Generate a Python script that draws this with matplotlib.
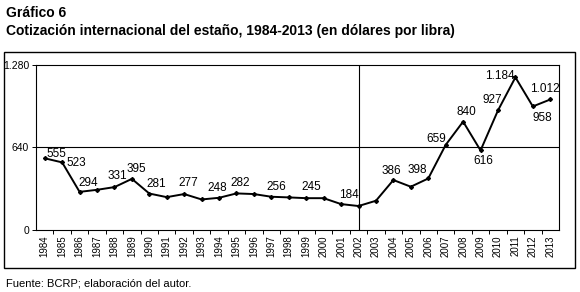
import matplotlib
matplotlib.use("Agg")
import matplotlib.pyplot as plt
from matplotlib.patches import Rectangle

years = list(range(1984, 2014))
values = [555, 523, 294, 310, 331, 395, 281, 253, 277, 235, 248, 282, 277, 256, 251, 245,
          245, 199, 184, 225, 386, 334, 398, 659, 840, 616, 927, 1184, 958, 1012]
labeled = {1984: "555", 1985: "523", 1986: "294", 1988: "331", 1989: "395", 1990: "281",
           1992: "277", 1994: "248", 1995: "282", 1997: "256", 1999: "245", 2002: "184",
           2004: "386", 2006: "398", 2007: "659", 2008: "840", 2009: "616", 2010: "927",
           2011: "1.184", 2012: "958", 2013: "1.012"}
# label offsets in pixels (dx right, dy down)
offsets = {1984: (12, -4), 1985: (14, 1), 1986: (8.5, -9), 1988: (2.4, -11), 1989: (4, -10),
           1990: (7, -10), 1992: (4, -10.6), 1994: (-2, -10), 1995: (4, -10), 1997: (5, -10),
           1999: (5, -11), 2002: (-10, -11), 2004: (-2, -9), 2006: (-11, -8), 2007: (-9.5, -6),
           2008: (3.4, -9.5), 2009: (3, 11), 2010: (-6, -10.6), 2011: (-16, -1),
           2012: (9.5, 11.4), 2013: (-5.6, -10.7)}
yticks = [0, 640, 1280]
ytick_labels = ["0", "640", "1.280"]

plt.rcParams['font.family'] = ['Liberation Sans', 'DejaVu Sans']

W, H = 580, 292
fig = plt.figure(figsize=(W / 100, H / 100), dpi=100)
ax = fig.add_axes([36 / W, (H - 229.7) / H, (559 - 36) / W, (229.7 - 65) / H])

ax.plot(years, values, color="black", lw=1.4, marker="D", ms=2.0, zorder=3)
ax.set_xlim(1983.5, 2013.5)
ax.set_ylim(0, 1280)
ax.set_yticks(yticks)
ax.set_yticklabels(ytick_labels, fontsize=7.5)
ax.set_xticks(years)
ax.set_xticklabels([str(y) for y in years], rotation=90, fontsize=7)
ax.set_xticks([y + 0.5 for y in years[:-1]], minor=True)
ax.tick_params(axis="x", which="major", length=0, pad=4)
ax.tick_params(axis="x", which="minor", length=3, width=0.7)
ax.tick_params(axis="y", length=3, width=0.7, pad=2)
ax.axhline(640, color="black", lw=0.8, zorder=1)
ax.axvline(2002, color="black", lw=0.8, zorder=1)
for s in ax.spines.values():
    s.set_linewidth(0.8)

for y, v in zip(years, values):
    if y in labeled:
        dx, dy = offsets[y]
        ax.annotate(labeled[y], (y, v), xytext=(dx * 0.72, -dy * 0.72), textcoords="offset points",
                    ha="center", va="center", fontsize=8.5)

fig.text(6 / W, 1 - 13 / H, "Gráfico 6", fontsize=10, fontweight="bold", va="center", ha="left")
fig.text(6 / W, 1 - 31 / H, "Cotización internacional del estaño, 1984-2013 (en dólares por libra)",
         fontsize=10, fontweight="bold", va="center", ha="left")
fig.text(6 / W, 1 - 283 / H, "Fuente: BCRP; elaboración del autor.", fontsize=8, va="center", ha="left")

fig.patches.append(Rectangle((4 / W, 1 - 268 / H), 571 / W, 216 / H, transform=fig.transFigure,
                             fill=False, edgecolor="black", lw=1.0))

fig.savefig("out.png", dpi=100)
